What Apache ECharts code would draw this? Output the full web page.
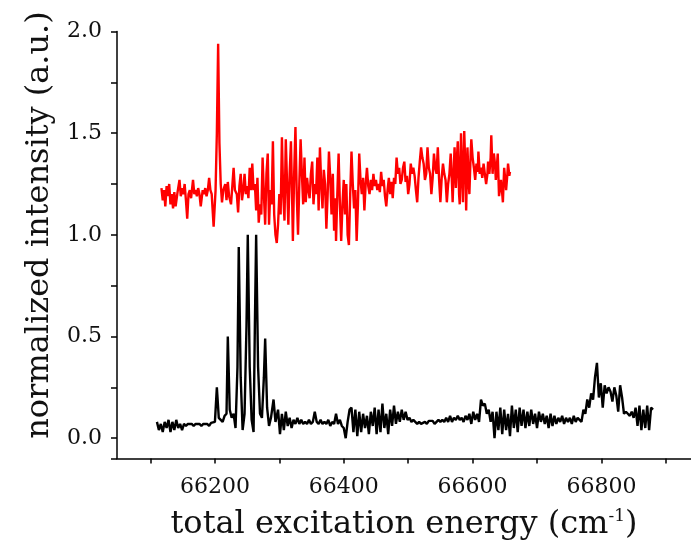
<!DOCTYPE html>
<html><head><meta charset="utf-8">
<script src="https://cdn.jsdelivr.net/npm/echarts@6/dist/echarts.min.js"></script>
<style>html,body{margin:0;padding:0;background:#fff}#c{width:691px;height:544px}</style>
</head><body><div id="c"></div>
<script>
const xTickLabels = ['66200','66400','66600','66800'];
const yTickLabels = ['0.0','0.5','1.0','1.5','2.0'];
const xTitle = 'total excitation energy (cm';
const xTitleSup = '-1';
const yTitle = 'normalized intensity (a.u.)';

const blackSpectrum = [[66110,0.08],[66113,0.04],[66116,0.07],[66119,0.03],[66122,0.08],[66125,0.05],[66128,0.09],[66131,0.03],[66134,0.08],[66137,0.04],[66140,0.09],[66143,0.05],[66146,0.07],[66149,0.04],[66152,0.07],[66155,0.06],[66158,0.07],[66161,0.065],[66164,0.07],[66167,0.06],[66170,0.07],[66173,0.065],[66176,0.07],[66179,0.06],[66182,0.07],[66185,0.065],[66188,0.07],[66191,0.06],[66194,0.075],[66197,0.07],
[66200,0.08],[66203,0.25],[66206,0.10],[66209,0.09],[66212,0.08],[66215,0.11],[66218,0.12],[66220,0.50],[66223,0.14],[66226,0.10],[66229,0.12],[66232,0.05],[66235,0.35],[66237,0.94],[66240,0.30],[66243,0.04],[66246,0.12],[66249,0.55],[66251,1.00],[66254,0.35],[66257,0.09],[66260,0.03],[66262,0.55],[66264,1.00],[66267,0.35],[66270,0.12],[66273,0.10],[66276,0.30],[66278,0.49],[66281,0.15],[66284,0.06],[66287,0.10],[66291,0.19],[66294,0.08],
[66298,0.14],[66301,0.02],[66304,0.12],[66307,0.04],[66310,0.13],[66313,0.06],[66316,0.10],[66319,0.05],[66322,0.09],[66325,0.07],[66328,0.10],[66331,0.07],[66334,0.09],[66337,0.07],[66340,0.08],[66343,0.07],[66346,0.09],[66349,0.07],[66352,0.08],[66355,0.13],[66358,0.08],[66361,0.07],[66364,0.09],[66367,0.07],[66370,0.08],[66373,0.07],[66376,0.09],[66379,0.06],[66382,0.08],[66385,0.07],[66388,0.12],[66391,0.07],[66394,0.09],[66397,0.06],
[66400,0.05],[66403,0.00],[66406,0.08],[66409,0.14],[66412,0.15],[66415,0.03],[66418,0.14],[66421,0.01],[66424,0.13],[66427,0.03],[66430,0.12],[66433,0.05],[66436,0.11],[66439,0.02],[66442,0.13],[66445,0.06],[66448,0.15],[66451,0.02],[66454,0.14],[66457,0.03],[66460,0.17],[66463,0.05],[66466,0.12],[66469,0.02],[66472,0.14],[66475,0.06],[66478,0.16],[66481,0.07],[66484,0.13],[66487,0.08],[66490,0.14],[66493,0.09],[66496,0.13],[66499,0.09],
[66502,0.10],[66505,0.08],[66508,0.09],[66511,0.08],[66514,0.07],[66517,0.08],[66520,0.07],[66523,0.065],[66526,0.08],[66529,0.07],[66532,0.085],[66535,0.08],[66538,0.085],[66541,0.07],[66544,0.08],[66547,0.09],[66550,0.08],[66553,0.09],[66556,0.08],[66559,0.10],[66562,0.08],[66565,0.11],[66568,0.08],[66571,0.10],[66574,0.09],[66577,0.11],[66580,0.09],[66583,0.10],[66586,0.08],[66589,0.11],[66592,0.09],[66595,0.12],[66598,0.07],
[66601,0.13],[66604,0.09],[66607,0.12],[66610,0.08],[66613,0.19],[66616,0.16],[66619,0.17],[66622,0.12],[66625,0.14],[66628,0.08],[66631,0.13],[66634,0.00],[66637,0.13],[66640,0.04],[66643,0.15],[66646,0.02],[66649,0.14],[66652,0.04],[66655,0.12],[66658,0.01],[66661,0.16],[66664,0.05],[66667,0.14],[66670,0.03],[66673,0.15],[66676,0.06],[66679,0.14],[66682,0.05],[66685,0.13],[66688,0.06],[66691,0.14],[66694,0.07],[66697,0.12],
[66700,0.05],[66703,0.13],[66706,0.08],[66709,0.12],[66712,0.07],[66715,0.11],[66718,0.05],[66721,0.12],[66724,0.06],[66727,0.11],[66730,0.07],[66733,0.10],[66736,0.08],[66739,0.11],[66742,0.07],[66745,0.10],[66748,0.08],[66751,0.10],[66754,0.07],[66757,0.11],[66760,0.08],[66763,0.10],[66766,0.09],[66769,0.08],[66772,0.14],[66775,0.12],[66778,0.19],[66781,0.15],[66784,0.22],[66787,0.19],[66790,0.30],[66793,0.37],[66796,0.20],
[66799,0.27],[66802,0.15],[66805,0.26],[66808,0.22],[66811,0.25],[66814,0.23],[66817,0.18],[66820,0.25],[66823,0.21],[66826,0.13],[66829,0.26],[66832,0.20],[66835,0.12],[66838,0.13],[66841,0.12],[66844,0.11],[66847,0.13],[66850,0.10],[66853,0.15],[66856,0.06],[66859,0.16],[66862,0.04],[66865,0.14],[66868,0.05],[66871,0.16],[66874,0.04],[66877,0.15],[66880,0.14]];

const redSpectrum = [[66117,1.23],[66119,1.17],[66121,1.22],[66123,1.14],[66125,1.24],[66127,1.19],[66129,1.25],[66131,1.15],[66133,1.20],[66135,1.13],[66137,1.21],[66139,1.14],[66142,1.21],[66145,1.27],[66147,1.19],[66149,1.23],[66151,1.20],[66153,1.25],[66155,1.17],[66157,1.08],[66159,1.20],[66161,1.22],[66163,1.18],[66166,1.27],[66168,1.20],[66170,1.22],[66172,1.19],[66174,1.23],[66176,1.20],[66178,1.14],[66181,1.22],[66183,1.20],[66185,1.23],[66187,1.19],[66189,1.22],[66191,1.28],[66193,1.22],[66195,1.20],[66198,1.04],[66201,1.22],[66203,1.50],[66205,1.94],[66207,1.45],[66209,1.25],[66211,1.16],[66213,1.22],[66216,1.25],[66218,1.17],[66220,1.26],[66222,1.19],[66225,1.15],[66227,1.24],[66229,1.33],[66231,1.22],[66234,1.20],[66236,1.11],[66238,1.24],[66240,1.30],[66242,1.17],[66244,1.22],[66246,1.30],[66248,1.20],[66250,1.24],[66252,1.18],[66254,1.33],[66256,1.22],[66258,1.35],[66260,1.22],[66262,1.25],[66264,1.12],[66266,1.28],[66268,1.06],[66270,1.15],[66272,1.10],[66274,1.38],[66276,1.20],[66278,1.05],[66280,1.30],[66282,1.40],[66284,1.05],[66286,1.22],[66288,1.15],[66290,1.46],[66292,1.10],[66294,1.00],[66296,0.96],[66298,1.05],[66300,1.20],[66302,1.10],[66304,1.48],[66306,1.20],[66308,1.07],[66310,1.47],[66312,1.25],[66314,1.05],[66316,1.30],[66318,1.46],[66320,1.15],[66321,0.97],[66323,1.30],[66325,1.53],[66327,1.20],[66329,1.00],[66331,1.25],[66333,1.47],[66335,1.30],[66337,1.15],[66339,1.38],[66341,1.16],[66343,1.28],[66345,1.22],[66347,1.18],[66349,1.30],[66351,1.36],[66353,1.15],[66355,1.25],[66357,1.20],[66359,1.38],[66361,1.12],[66363,1.43],[66365,1.25],[66367,1.13],[66369,1.32],[66371,1.25],[66373,1.03],[66375,1.20],[66377,1.41],[66379,1.28],[66381,1.10],[66383,1.30],[66385,1.02],[66387,1.18],[66388,0.97],[66390,1.20],[66392,1.40],[66394,1.15],[66396,0.97],[66398,1.15],[66400,1.27],[66402,1.10],[66404,1.25],[66406,1.00],[66408,0.95],[66410,1.20],[66412,1.41],[66414,1.25],[66416,1.13],[66418,1.22],[66420,0.97],[66422,1.15],[66424,1.40],[66426,1.27],[66428,1.20],[66430,1.28],[66432,1.12],[66434,1.25],[66436,1.33],[66438,1.24],[66440,1.20],[66442,1.27],[66444,1.22],[66446,1.30],[66448,1.24],[66450,1.27],[66452,1.22],[66454,1.25],[66456,1.21],[66458,1.31],[66460,1.24],[66462,1.27],[66464,1.19],[66466,1.14],[66468,1.22],[66470,1.28],[66472,1.20],[66474,1.26],[66476,1.18],[66478,1.28],[66480,1.25],[66482,1.38],[66484,1.30],[66486,1.33],[66488,1.25],[66490,1.27],[66492,1.33],[66494,1.36],[66496,1.26],[66498,1.29],[66500,1.20],[66502,1.25],[66504,1.35],[66506,1.30],[66508,1.33],[66510,1.29],[66512,1.22],[66514,1.16],[66516,1.28],[66518,1.36],[66520,1.43],[66522,1.38],[66524,1.35],[66526,1.27],[66528,1.30],[66530,1.43],[66532,1.33],[66534,1.30],[66536,1.20],[66538,1.28],[66540,1.40],[66542,1.33],[66544,1.30],[66546,1.43],[66548,1.27],[66550,1.16],[66552,1.28],[66554,1.35],[66556,1.30],[66558,1.27],[66560,1.16],[66562,1.25],[66564,1.30],[66566,1.40],[66568,1.25],[66569,1.16],[66571,1.35],[66572,1.43],[66574,1.23],[66576,1.40],[66577,1.46],[66579,1.20],[66580,1.15],[66582,1.50],[66584,1.25],[66585,1.16],[66587,1.51],[66589,1.30],[66590,1.12],[66592,1.43],[66594,1.25],[66595,1.20],[66597,1.40],[66598,1.47],[66600,1.38],[66602,1.33],[66604,1.27],[66606,1.35],[66608,1.31],[66609,1.41],[66611,1.30],[66613,1.33],[66615,1.28],[66617,1.35],[66619,1.30],[66621,1.25],[66623,1.30],[66624,1.36],[66626,1.30],[66628,1.38],[66629,1.49],[66631,1.30],[66633,1.40],[66635,1.34],[66636,1.27],[66638,1.35],[66639,1.40],[66641,1.19],[66643,1.24],[66644,1.27],[66646,1.20],[66647,1.16],[66649,1.33],[66651,1.26],[66652,1.22],[66654,1.30],[66655,1.35],[66657,1.29],[66658,1.31]];

const serif = 'DejaVu Serif';
const chart = echarts.init(document.getElementById('c'), null, {renderer: 'canvas'});
chart.setOption({
  animation: false,
  backgroundColor: '#ffffff',
  grid: {left: 117, right: 0, top: 31.5, bottom: 85.5, containLabel: false, outerBoundsMode: 'none'},
  xAxis: {
    type: 'value', min: 66048, max: 66939, minInterval: 100, maxInterval: 100,
    axisLine: {onZero: false, lineStyle: {color: '#000', width: 1.5}},
    axisTick: {length: 5, lineStyle: {color: '#000', width: 1.5}},
    splitLine: {show: false},
    axisLabel: {
      margin: 18, color: '#111', fontFamily: serif, fontSize: 22,
      showMinLabel: false, showMaxLabel: false,
      formatter: v => xTickLabels.includes(String(Math.round(v))) && Math.abs(v - Math.round(v)) < 1e-6 ? String(Math.round(v)) : ''
    },
    name: '{t|' + xTitle + '}{s|' + xTitleSup + '}{t|)}',
    nameLocation: 'middle', nameGap: 50,
    nameTextStyle: {
      rich: {
        t: {fontFamily: serif, fontSize: 32, color: '#111'},
        s: {fontFamily: serif, fontSize: 17, color: '#111', verticalAlign: 'top'}
      }
    }
  },
  yAxis: {
    type: 'value', min: -0.1, max: 2.0, minInterval: 0.25, maxInterval: 0.25,
    axisLine: {show: true, onZero: false, lineStyle: {color: '#000', width: 1.5}},
    axisTick: {show: true, length: 6, lineStyle: {color: '#000', width: 1.5}},
    splitLine: {show: false},
    axisLabel: {
      margin: 15, color: '#111', fontFamily: serif, fontSize: 22,
      formatter: v => {
        const s = (Math.round(v * 100) / 100).toFixed(2);
        const t = (Math.round(v * 10) / 10).toFixed(1);
        return (s.endsWith('0') && yTickLabels.includes(t)) ? t : '';
      }
    },
    name: yTitle, nameLocation: 'middle', nameGap: 54,
    nameTextStyle: {fontFamily: serif, fontSize: 32, color: '#111', padding: [0, 0, 0, 40]}
  },
  series: [
    {type: 'line', data: blackSpectrum, showSymbol: false, symbol: 'none', lineStyle: {color: '#000', width: 2.4}, z: 2},
    {type: 'line', data: redSpectrum, showSymbol: false, symbol: 'none', lineStyle: {color: '#ff0000', width: 2.4}, z: 3}
  ]
});
</script></body></html>
